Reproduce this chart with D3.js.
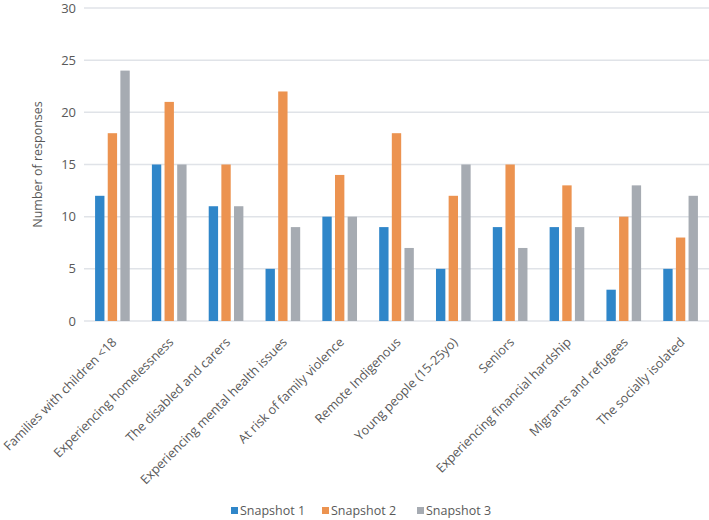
<!DOCTYPE html>
<html><head><meta charset="utf-8">
<script src="https://cdn.jsdelivr.net/npm/d3@7"></script>
<style>body{margin:0;background:#fff}svg{display:block}text{font-family:"Open Sans",sans-serif;fill:#595959}</style>
</head><body><svg id="c" width="709" height="520"></svg>
<script>
const categories = ["Families with children <18","Experiencing homelessness","The disabled and carers","Experiencing mental health issues","At risk of family violence","Remote Indigenous","Young people (15-25yo)","Seniors","Experiencing financial hardship","Migrants and refugees","The socially isolated"];
const seriesNames = ["Snapshot 1","Snapshot 2","Snapshot 3"];
const snapshot1 = [12,15,11,5,10,9,5,9,9,3,5];
const snapshot2 = [18,21,15,22,14,18,12,15,13,10,8];
const snapshot3 = [24,15,11,9,10,7,15,7,9,13,12];
const yTicks = [0,5,10,15,20,25,30];
const colors = ["#2f86c9","#ec9350","#a6abb2"];

const series = [snapshot1, snapshot2, snapshot3];
const svg = d3.select("#c");
const m = {l:84, r:0, t:8, b:199};
const W = 709, H = 520;
const y = d3.scaleLinear().domain([0,30]).range([H-m.b, m.t]);
const x0 = d3.scaleBand().domain(categories).range([m.l, W-m.r]).paddingInner(0.39).paddingOuter(0.195);
const x1 = d3.scaleBand().domain(seriesNames).range([0, x0.bandwidth()]).paddingInner(0.26).paddingOuter(0);

// gridlines
svg.append("g").selectAll("line").data(yTicks).join("line")
  .attr("x1", m.l).attr("x2", W-m.r)
  .attr("y1", d=>y(d)).attr("y2", d=>y(d))
  .attr("stroke", "#e0e3e8").attr("stroke-width", 1.5);

// y labels
svg.append("g").selectAll("text").data(yTicks).join("text")
  .attr("x", m.l-8).attr("y", d=>y(d)).attr("dy","0.35em")
  .attr("text-anchor","end").attr("font-size", 13).text(d=>d);

svg.append("text").attr("transform", `translate(42,${(y(0)+y(30))/2}) rotate(-90)`)
  .attr("text-anchor","middle").attr("font-size",12.5).text("Number of responses");

// bars
const g = svg.append("g");
categories.forEach((c,i)=>{
  seriesNames.forEach((s,j)=>{
    g.append("rect")
      .attr("x", x0(c)+x1(s)).attr("width", x1.bandwidth())
      .attr("y", y(series[j][i])).attr("height", y(0)-y(series[j][i]))
      .attr("fill", colors[j]);
  });
});

// x labels
svg.append("g").selectAll("text").data(categories).join("text")
  .attr("transform", d=>`translate(${x0(d)+x0.bandwidth()/2+5},${y(0)+22}) rotate(-45)`)
  .attr("text-anchor","end").attr("font-size",12.7).text(d=>d);

// legend
const leg = svg.append("g");
const legX = [231, 322, 417];
seriesNames.forEach((s,j)=>{
  leg.append("rect").attr("x", legX[j]).attr("y", 507).attr("width", 7).attr("height", 7).attr("fill", colors[j]);
  leg.append("text").attr("x", legX[j]+9).attr("y", 511).attr("dy","0.35em").attr("font-size",12.5).text(s);
});
</script></body></html>
